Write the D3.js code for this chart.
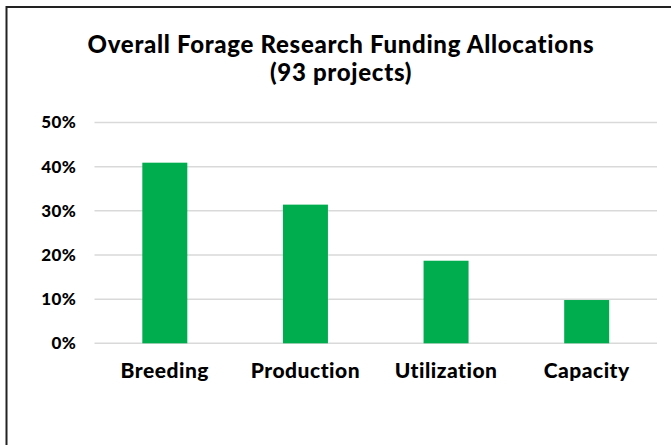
<!DOCTYPE html>
<html>
<head>
<meta charset="utf-8">
<script src="https://cdn.jsdelivr.net/npm/d3@7"></script>
<style>
  body { margin: 0; background: #fff; }
  text { font-family: Lato, "Open Sans", sans-serif; font-weight: 900; fill: #000; }
</style>
</head>
<body>
<script>
// chart data
var categories = ["Breeding", "Production", "Utilization", "Capacity"];
var shares = [0.409, 0.314, 0.187, 0.098];
var tickValues = [0, 0.1, 0.2, 0.3, 0.4, 0.5];
var titleLines = ["Overall Forage Research Funding Allocations", "(93 projects)"];

var width = 671,
    height = 445;

var svg = d3.select("body").append("svg")
    .attr("width", width)
    .attr("height", height);

// outer frame (only top and left visible in the crop)
svg.append("rect")
    .attr("x", 6.5).attr("y", 7)
    .attr("width", 700).attr("height", 500)
    .attr("fill", "#fff")
    .attr("stroke", "#222")
    .attr("stroke-width", 2);

var margin = {left: 94.5, right: 14, top: 122.5, bottom: 101.7};

var x = d3.scaleBand()
    .domain(categories)
    .range([margin.left, width - margin.right])
    .paddingInner(0.68)
    .paddingOuter(0.34);

var y = d3.scaleLinear()
    .domain([0, 0.5])
    .range([height - margin.bottom, margin.top]);

// gridlines
svg.append("g")
    .selectAll("line")
    .data(tickValues)
    .enter().append("line")
    .attr("x1", margin.left)
    .attr("x2", width - margin.right)
    .attr("y1", function(d) { return y(d); })
    .attr("y2", function(d) { return y(d); })
    .attr("stroke", "#d9d9d9")
    .attr("stroke-width", 1.5);

// bars
svg.append("g")
    .selectAll("rect")
    .data(shares)
    .enter().append("rect")
    .attr("x", function(d, i) { return x(categories[i]); })
    .attr("width", x.bandwidth())
    .attr("y", function(d) { return y(d); })
    .attr("height", function(d) { return y(0) - y(d); })
    .attr("fill", "#00ad4e");

// y axis
var yAxis = d3.axisLeft(y)
    .tickValues(tickValues)
    .tickFormat(d3.format(".0%"))
    .tickSize(0)
    .tickPadding(0);

svg.append("g")
    .attr("transform", "translate(76,0)")
    .call(yAxis)
    .call(function(g) { g.select(".domain").remove(); })
    .selectAll("text")
    .attr("font-size", 17)
    .attr("letter-spacing", 0.3)
    .style("font-family", "Lato, sans-serif");

// x axis
var xAxis = d3.axisBottom(x)
    .tickSize(0)
    .tickPadding(20);

svg.append("g")
    .attr("transform", "translate(0," + y(0) + ")")
    .call(xAxis)
    .call(function(g) { g.select(".domain").remove(); })
    .selectAll("text")
    .attr("font-size", 21)
    .attr("letter-spacing", 0.5)
    .style("font-family", "Lato, sans-serif");

// title
svg.append("g")
    .selectAll("text")
    .data(titleLines)
    .enter().append("text")
    .attr("x", 341)
    .attr("y", function(d, i) { return 53 + i * 28; })
    .attr("text-anchor", "middle")
    .attr("font-size", 24)
    .attr("letter-spacing", 0.7)
    .text(function(d) { return d; });
</script>
</body>
</html>
